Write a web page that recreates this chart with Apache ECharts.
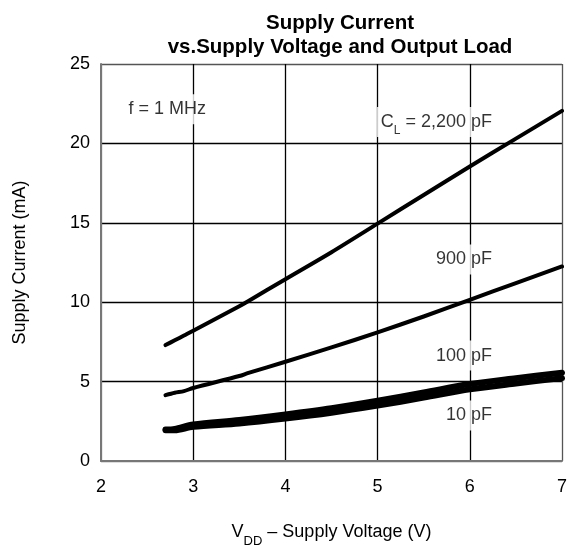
<!DOCTYPE html>
<html>
<head>
<meta charset="utf-8">
<script src="https://cdn.jsdelivr.net/npm/echarts@6/dist/echarts.min.js"></script>
<style>
html,body{margin:0;padding:0;background:#fff;}
#c{width:570px;height:553px;}
</style>
</head>
<body>
<div id="c"></div>
<script>
// Data
var vddThin = [2.7, 2.8, 2.9, 3.0, 3.5, 3.6, 4.0, 4.5, 5.0, 5.5, 6.0, 6.5, 7.0];
var i2200 = [7.3, 7.6, 7.9, 8.2, 9.75, 10.08, 11.45, 13.15, 14.95, 16.75, 18.55, 20.3, 22.05];
var i900  = [4.15, 4.3, 4.4, 4.6, 5.35, 5.55, 6.25, 7.15, 8.1, 9.1, 10.15, 11.2, 12.25];
var vddThick = [2.7, 2.8, 3.0, 3.5, 4.0, 4.5, 5.0, 5.5, 6.0, 6.5, 7.0];
var i100  = [1.98, 2.02, 2.30, 2.58, 2.93, 3.32, 3.79, 4.31, 4.85, 5.22, 5.56];
var i10   = [1.93, 1.94, 2.15, 2.36, 2.67, 3.04, 3.49, 3.99, 4.51, 4.88, 5.22];
var xTicks = [2, 3, 4, 5, 6, 7];
var yTicks = [0, 5, 10, 15, 20, 25];
// annotation labels: [x, y, text, side]
var notes = [
  [2.25, 22.15, 'f = 1 MHz', 'right'],
  [6.29, 21.35, 'C{sub|L} = 2,200 pF', 'left'],
  [6.29, 12.69, '900 pF', 'left'],
  [6.29, 6.64, '100 pF', 'left'],
  [6.29, 2.87, '10 pF', 'left']
];

function pairs(xs, ys){ return xs.map(function(x,i){ return [x, ys[i]]; }); }

var FONT = '"Liberation Sans", Arial, Helvetica, sans-serif';
var chart = echarts.init(document.getElementById('c'), null, {renderer:'canvas'});

function lineSeries(name, xs, ys, w){
  return {
    name: name, type: 'line', data: pairs(xs, ys), showSymbol: false, symbol: 'none',
    smooth: 0.3, lineStyle: {color: '#000', width: w, cap: 'round', join: 'round'},
    z: 3, animation: false
  };
}

var labelSeries = {
  type: 'scatter', symbolSize: 1, itemStyle: {color: 'rgba(0,0,0,0)'}, z: 5, animation: false,
  silent: true,
  data: notes.map(function(n){
    return {
      value: [n[0], n[1]],
      label: {
        show: true, position: n[3], distance: 0, formatter: n[2],
        fontFamily: FONT, fontSize: 18, color: '#000',
        backgroundColor: '#fff', padding: [6, 4, 6, 4],
        rich: { sub: {fontSize: 12, fontFamily: FONT, color: '#000', verticalAlign: 'bottom', padding: [0,0,-6,0]} }
      }
    };
  })
};

chart.setOption({
  backgroundColor: '#fff',
  animation: false,
  title: {
    text: 'Supply Current\nvs.Supply Voltage and Output Load',
    left: 335, top: 6, textAlign: 'center',
    textStyle: {fontFamily: FONT, fontSize: 20.5, fontWeight: 'bold', color: '#000', lineHeight: 24}
  },
  grid: {left: 101, right: 3, top: 64, bottom: 85},
  xAxis: {
    type: 'value', min: 2, max: 7, interval: 1,
    name: 'V{sub|DD} \u2013 Supply Voltage (V)', nameLocation: 'middle', nameGap: 62,
    nameTextStyle: {fontFamily: FONT, fontSize: 18, color: '#000',
      rich: {sub: {fontFamily: FONT, fontSize: 13, color: '#000', verticalAlign: 'bottom', padding: [0,0,-7,0]}}},
    axisLine: {show: true, lineStyle: {color: '#777', width: 2}},
    axisTick: {show: false},
    axisLabel: {fontFamily: FONT, fontSize: 18, color: '#000', margin: 17,
      formatter: function(v){ return xTicks.indexOf(v) >= 0 ? String(v) : ''; }},
    splitLine: {show: true, lineStyle: {color: ['#777','#000','#000','#000','#000','#555'], width: 1.3}}
  },
  yAxis: {
    type: 'value', min: 0, max: 25, interval: 5,
    name: 'Supply Current (mA)', nameLocation: 'middle', nameGap: 72,
    nameTextStyle: {fontFamily: FONT, fontSize: 18, color: '#000'},
    axisLine: {show: true, lineStyle: {color: '#777', width: 2}},
    axisTick: {show: false},
    axisLabel: {fontFamily: FONT, fontSize: 18, color: '#000', margin: 11,
      formatter: function(v){ return yTicks.indexOf(v) >= 0 ? String(v) : ''; }},
    splitLine: {show: true, lineStyle: {color: ['#777','#000','#000','#000','#000','#555'], width: 1.3}}
  },
  series: [
    lineSeries('2,200 pF', vddThin, i2200, 4),
    lineSeries('900 pF', vddThin, i900, 4),
    lineSeries('100 pF', vddThick, i100, 6),
    lineSeries('10 pF', vddThick, i10, 6),
    labelSeries
  ]
});
</script>
</body>
</html>
